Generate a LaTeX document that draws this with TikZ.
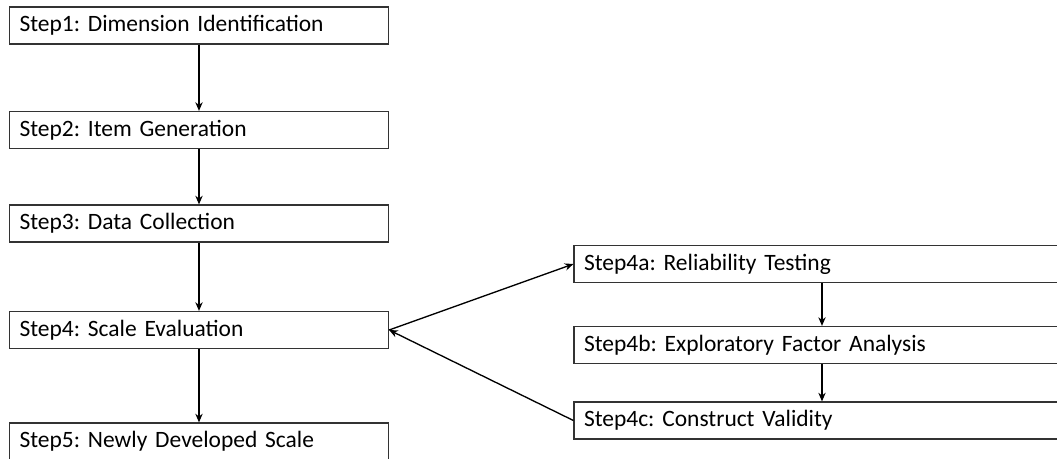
\documentclass[tikz,border=0pt]{standalone}
\usepackage{fontspec}
\setmainfont{Carlito}
\usetikzlibrary{arrows.meta}
\frenchspacing
\begin{document}
\begin{tikzpicture}[x=0.75pt,y=-0.75pt,
  stepbox/.style={draw=black!80, line width=0.9pt, rectangle, inner xsep=7.5pt, inner ysep=0pt,
    minimum height=27.75pt, align=left, anchor=center,
    font=\fontsize{17.6pt}{20pt}\selectfont\frenchspacing, text=black},
  leftbox/.style={stepbox, text width=269.25pt},
  rightbox/.style={stepbox, text width=357pt},
  conn/.style={line width=1pt, draw=black, -{Stealth[length=6.5pt,width=5.5pt]}}]
\useasboundingbox[clip] (0,0) rectangle (1057,458);
\fill[white] (0,0) rectangle (1057,458);
\node[leftbox] (s1) at (199,25.5) {Step1: Dimension Identification};
\node[leftbox] (s2) at (199,130) {Step2: Item Generation};
\node[leftbox] (s3) at (199,223.5) {Step3: Data Collection};
\node[leftbox] (s4) at (199,330) {Step4: Scale Evaluation};
\node[leftbox] (s5) at (199,441.5) {Step5: Newly Developed Scale};
\node[rightbox] (s4a) at (822,264) {Step4a: Reliability Testing};
\node[rightbox] (s4b) at (822,345) {Step4b: Exploratory Factor Analysis};
\node[rightbox] (s4c) at (822,420.5) {Step4c: Construct Validity};
\draw[conn] (s1) -- (s2);
\draw[conn] (s2) -- (s3);
\draw[conn] (s3) -- (s4);
\draw[conn] (s4) -- (s5);
\draw[conn] (s4a) -- (s4b);
\draw[conn] (s4b) -- (s4c);
\draw[conn] (s4.east) -- (s4a.west);
\draw[conn] (s4c.west) -- (s4.east);
\end{tikzpicture}
\end{document}
